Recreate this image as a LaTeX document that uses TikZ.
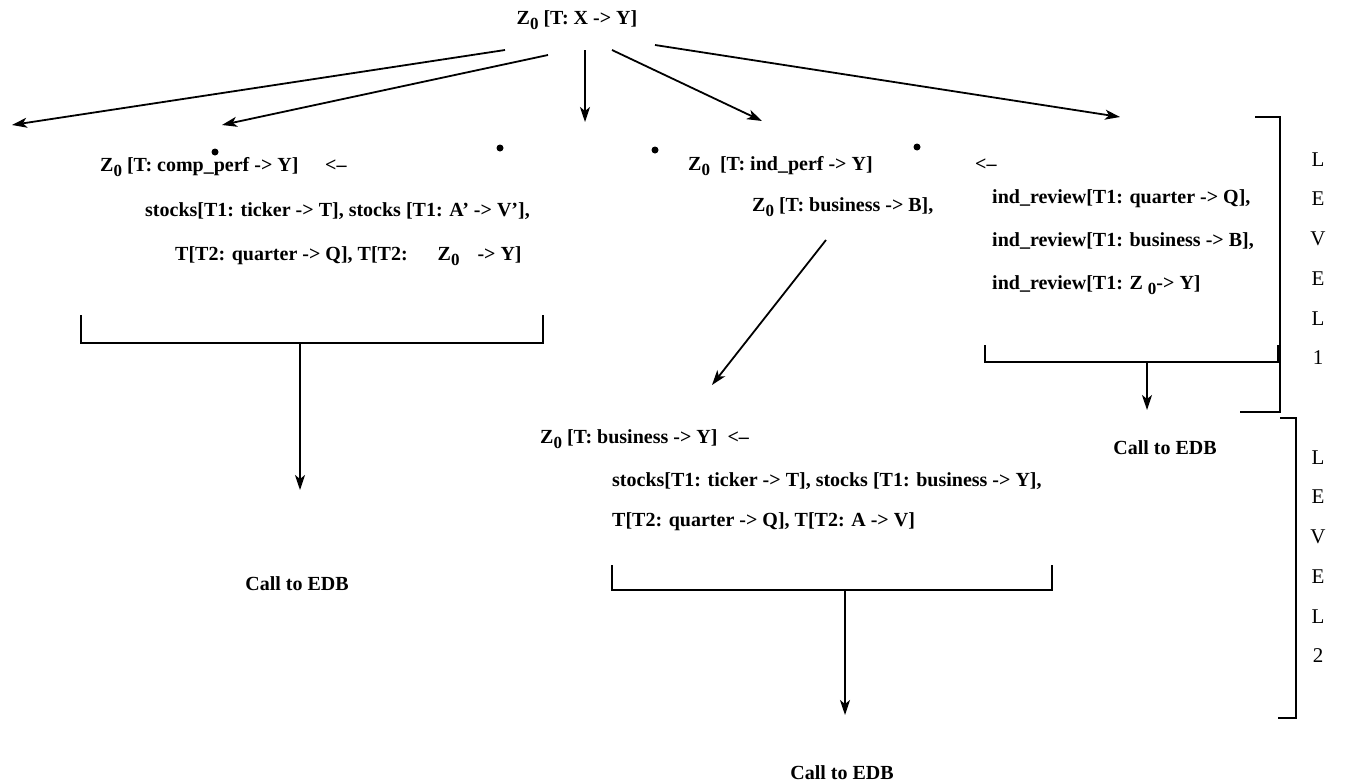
\documentclass[tikz,border=0pt]{standalone}
\usepackage{fontspec}
\setmainfont{Liberation Serif}
\usetikzlibrary{arrows.meta}
\newcommand\Zo{Z\raisebox{-5pt}{\fontsize{17}{17}\selectfont 0}}
\begin{document}
\begin{tikzpicture}[x=1pt,y=-1pt,
  txt/.style={font=\fontsize{20}{23}\selectfont\bfseries, inner sep=0pt, anchor=base west},
  ctr/.style={font=\fontsize{20}{23}\selectfont\bfseries, inner sep=0pt, anchor=center},
  lvl/.style={font=\fontsize{21}{23}\selectfont, inner sep=0pt, anchor=center},
  conn/.style={line width=1.8pt},
  arr/.style={conn, -{Stealth[length=15pt,width=10pt,inset=4pt]}},
  dotnode/.style={circle, fill=black, inner sep=0pt, minimum size=7pt}]
\useasboundingbox (0,0) rectangle (1352,782);
% top
\node[ctr] (top) at (577,20) {\Zo\ [T: X -> Y]};
\coordinate (s1) at (505,50);
\coordinate (s2) at (548,55);
\coordinate (s3) at (585,50);
\coordinate (s4) at (612,50);
\coordinate (s5) at (655,45);
\coordinate (e1) at (12,125);
\coordinate (e2) at (222,125);
\coordinate (e3) at (585,122);
\coordinate (e4) at (762,121);
\coordinate (e5) at (1120,117);
\draw[arr] (s1) -- (e1);
\draw[arr] (s2) -- (e2);
\draw[arr] (s3) -- (e3);
\draw[arr] (s4) -- (e4);
\draw[arr] (s5) -- (e5);
% dots
\node[dotnode] (d1) at (215,152) {};
\node[dotnode] (d2) at (500,148) {};
\node[dotnode] (d3) at (655,150) {};
\node[dotnode] (d4) at (917,147) {};
% left block
\node[txt] (comp) at (100,171) {\Zo\ [T: comp\_perf -> Y]};
\node[txt] (imp1) at (325,171) {<--};
\node[txt] (cs1) at (145,216) {stocks[T1: ticker -> T], stocks [T1: A’ -> V’],};
\node[txt] (cs2) at (175,260) {T[T2: quarter -> Q], T[T2:\hspace{30pt}\Zo\hspace{18pt}-> Y]};
\coordinate (b1a) at (81,315);
\coordinate (b1b) at (81,343);
\coordinate (b1c) at (543,343);
\coordinate (b1d) at (543,315);
\draw[conn] (b1a) -- (b1b) -- (b1c) -- (b1d);
\coordinate (b1m) at (300,343);
\coordinate (b1e) at (300,490);
\draw[arr] (b1m) -- (b1e);
\node[ctr] (edb1) at (297,584) {Call to EDB};
% middle block
\node[txt] (ind) at (688,170) {\Zo\ \ [T: ind\_perf -> Y]};
\node[txt] (imp2) at (975,170) {<--};
\node[txt] (bus) at (752,211) {\Zo\ [T: business -> B],};
\coordinate (m1) at (826,240);
\coordinate (m2) at (712,385);
\draw[arr] (m1) -- (m2);
% right block
\node[txt] (ir1) at (992,203) {ind\_review[T1: quarter -> Q],};
\node[txt] (ir2) at (992,246) {ind\_review[T1: business -> B],};
\node[txt] (ir3) at (992,289) {ind\_review[T1: Z \raisebox{-5pt}{\fontsize{17}{17}\selectfont 0}-> Y]};
\coordinate (b2a) at (985,345);
\coordinate (b2b) at (985,362);
\coordinate (b2c) at (1278,362);
\coordinate (b2d) at (1278,345);
\draw[conn] (b2a) -- (b2b) -- (b2c) -- (b2d);
\coordinate (b2m) at (1147,362);
\coordinate (b2e) at (1147,410);
\draw[arr] (b2m) -- (b2e);
\node[ctr] (edb2) at (1165,448) {Call to EDB};
% lower block
\node[txt] (bz) at (540,443) {\Zo\ [T: business -> Y]\ \ <--};
\node[txt] (ls1) at (612,486) {stocks[T1: ticker -> T], stocks [T1: business -> Y],};
\node[txt] (ls2) at (612,526) {T[T2: quarter -> Q], T[T2: A -> V]};
\coordinate (b3a) at (612,565);
\coordinate (b3b) at (612,590);
\coordinate (b3c) at (1052,590);
\coordinate (b3d) at (1052,565);
\draw[conn] (b3a) -- (b3b) -- (b3c) -- (b3d);
\coordinate (b3m) at (845,590);
\coordinate (b3e) at (845,715);
\draw[arr] (b3m) -- (b3e);
\node[ctr] (edb3) at (842,773) {Call to EDB};
% level brackets
\coordinate (l1a) at (1255,117);
\coordinate (l1b) at (1280,117);
\coordinate (l1c) at (1280,412);
\coordinate (l1d) at (1240,412);
\draw[conn] (l1a) -- (l1b) -- (l1c) -- (l1d);
\coordinate (l2a) at (1280,418);
\coordinate (l2b) at (1296,418);
\coordinate (l2c) at (1296,718);
\coordinate (l2d) at (1278,718);
\draw[conn] (l2a) -- (l2b) -- (l2c) -- (l2d);
\node[lvl] (L1a) at (1318,160) {L};
\node[lvl] (L1b) at (1318,199) {E};
\node[lvl] (L1c) at (1318,239) {V};
\node[lvl] (L1d) at (1318,279) {E};
\node[lvl] (L1e) at (1318,319) {L};
\node[lvl] (L1f) at (1318,358) {1};
\node[lvl] (L2a) at (1318,458) {L};
\node[lvl] (L2b) at (1318,497) {E};
\node[lvl] (L2c) at (1318,537) {V};
\node[lvl] (L2d) at (1318,577) {E};
\node[lvl] (L2e) at (1318,617) {L};
\node[lvl] (L2f) at (1318,656) {2};
\end{tikzpicture}
\end{document}
